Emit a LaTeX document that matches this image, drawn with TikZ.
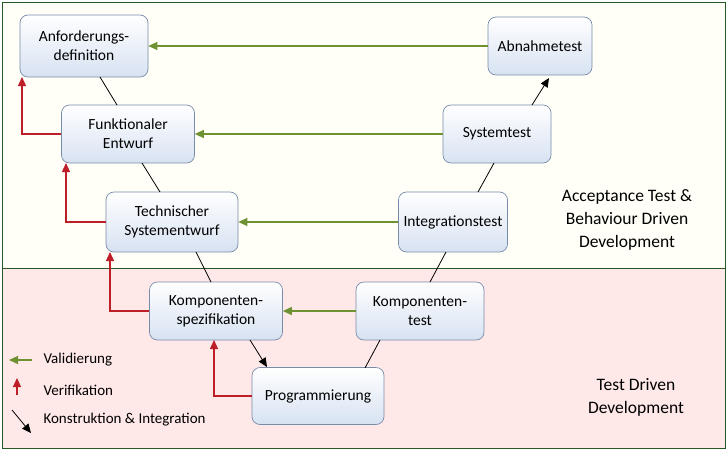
\documentclass[tikz,border=0pt]{standalone}
\usepackage{fontspec}
\setmainfont{Carlito}
\usetikzlibrary{arrows.meta}
\definecolor{bx}{RGB}{120,140,170}
\definecolor{bfill}{RGB}{215,226,242}
\definecolor{vg}{RGB}{110,145,50}
\definecolor{vr}{RGB}{190,30,40}
\begin{document}
\begin{tikzpicture}[x=1pt,y=-1pt,
  box/.style={draw=bx,line width=0.7pt,rounded corners=8pt,top color=white,bottom color=bfill,align=center,font=\fontsize{15.5}{19}\selectfont,inner sep=2pt},
  tip/.style={-{Triangle[length=9pt,width=8pt]}},
  con/.style={line width=0.8pt,black},
  val/.style={line width=1.2pt,draw=vg,tip},
  ver/.style={line width=1.2pt,draw=vr,tip},
  lab/.style={font=\fontsize{15}{18}\selectfont,anchor=west}]
\useasboundingbox (0,0) rectangle (727,450);
\fill[green!4!yellow!3] (2,2) rectangle (725,268);
\fill[red!9] (2,268) rectangle (725,448);
\draw[gray!60!green!50!black,line width=0.9pt] (2,2) rectangle (725,268);
\draw[gray!60!green!50!black,line width=0.9pt] (2,268) rectangle (725,448);
\node[box,minimum width=128pt,minimum height=62pt] (anf) at (84,46) {Anforderungs-\\definition};
\node[box,minimum width=104pt,minimum height=58pt] (abn) at (540,46) {Abnahmetest};
\node[box,minimum width=133pt,minimum height=58pt] (fun) at (128,134) {Funktionaler\\Entwurf};
\node[box,minimum width=108pt,minimum height=58pt] (sys) at (497,134) {Systemtest};
\node[box,minimum width=132pt,minimum height=60pt] (tec) at (172,222) {Technischer\\Systementwurf};
\node[box,minimum width=109pt,minimum height=60pt] (int) at (453,222) {Integrationstest};
\node[box,minimum width=133pt,minimum height=58pt] (ksp) at (216,311) {Komponenten-\\spezifikation};
\node[box,minimum width=128pt,minimum height=58pt] (kte) at (420,311) {Komponenten-\\test};
\node[box,minimum width=132pt,minimum height=57pt] (pro) at (318,396) {Programmierung};
\draw[con] (100,77) -- (117,105);
\draw[con] (142,163) -- (160,192);
\draw[con] (196,252) -- (211,282);
\draw[con,tip] (250,340) -- (267,367);
\draw[con] (365,368) -- (380,340);
\draw[con] (430,282) -- (446,252);
\draw[con] (478,192) -- (494,163);
\draw[con,tip] (532,105) -- (549,78);
\draw[val] (abn.west) -- (anf.east);
\draw[val] (sys.west) -- (fun.east);
\draw[val] (int.west) -- (tec.east);
\draw[val] (kte.west) -- (ksp.east);
\draw[ver] (fun.west) -| (22,77);
\draw[ver] (tec.west) -| (66,163);
\draw[ver] (ksp.west) -| (110,252);
\draw[ver] (pro.west) -| (214,340);
\coordinate (v1) at (32,360); \coordinate (v2) at (9,360);
\draw[val] (v1) -- (v2);
\node[lab] (vl) at (40,360) {Validierung};
\coordinate (r1) at (17,395); \coordinate (r2) at (17,378);
\draw[ver] (r1) -- (r2);
\node[lab] (rl) at (40,390) {Verifikation};
\coordinate (k1) at (12,410); \coordinate (k2) at (31,433);
\draw[con,tip] (k1) -- (k2);
\node[lab] (kl) at (40,420) {Konstruktion \& Integration};
\node[align=center,font=\fontsize{17.5}{23}\selectfont] (atdd) at (627,220) {Acceptance Test \&\\Behaviour Driven\\Development};
\node[align=center,font=\fontsize{17.5}{23}\selectfont] (tdd) at (636,397) {Test Driven\\Development};
\end{tikzpicture}
\end{document}
